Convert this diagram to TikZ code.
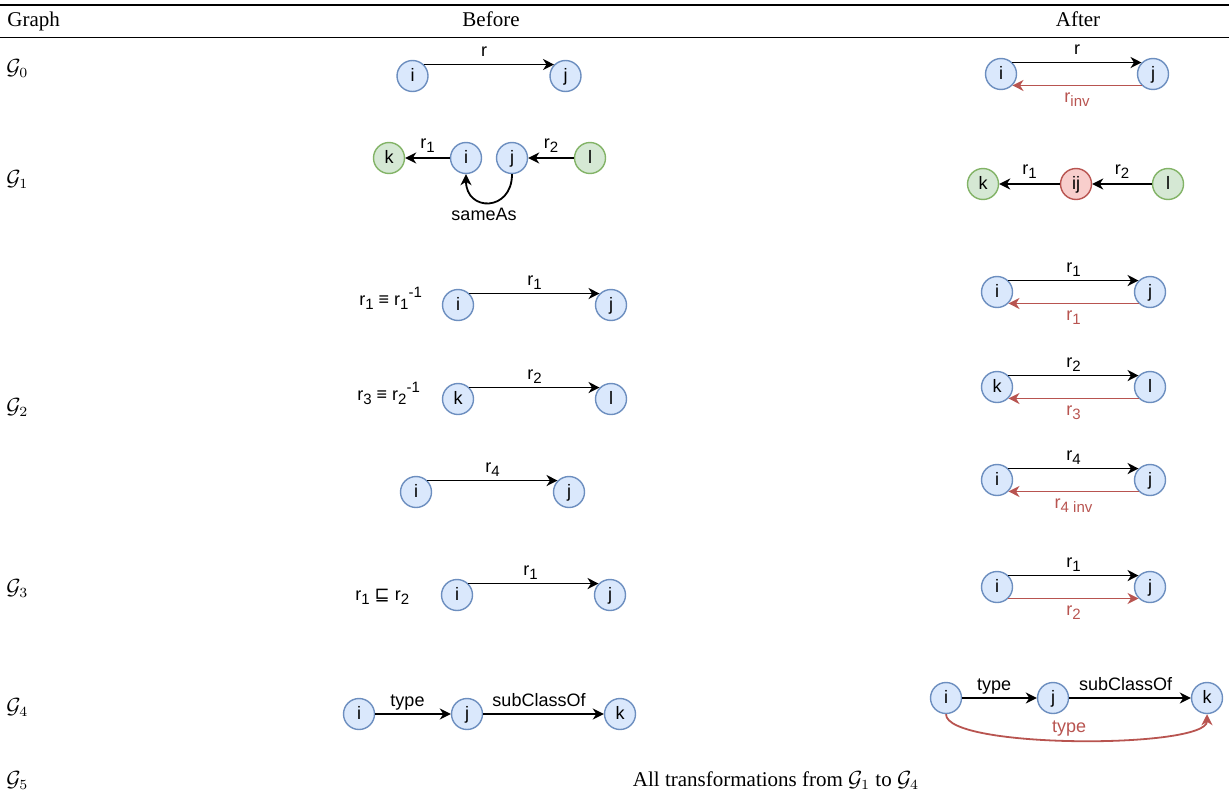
\documentclass[tikz,border=0pt]{standalone}
\usepackage{fontspec}
\setmainfont{Liberation Serif}
\setsansfont{Liberation Sans}
\newfontfamily\symfont{DejaVu Sans}
\usetikzlibrary{arrows.meta}

\definecolor{blueFill}{HTML}{DAE8FC}
\definecolor{blueLine}{HTML}{6C8EBF}
\definecolor{greenFill}{HTML}{D5E8D4}
\definecolor{greenLine}{HTML}{82B366}
\definecolor{redFill}{HTML}{F8CECC}
\definecolor{redLine}{HTML}{B85450}

\newcommand{\sansnine}{\sffamily\fontsize{9}{10}\selectfont}
\newcommand{\serifsize}{\rmfamily\fontsize{10.5}{12}\selectfont}
% lowered / raised indices in the diagram labels
\newcommand{\lo}[1]{\raisebox{-2pt}{\fontsize{7.5}{8}\selectfont #1}}
\newcommand{\hi}[1]{\raisebox{3.7pt}{\fontsize{7.5}{8}\selectfont #1}}

\begin{document}
\begin{tikzpicture}[x=0.5pt,y=-0.5pt,
  vtx/.style={circle, draw=blueLine, fill=blueFill, line width=0.7pt,
    minimum size=15.5pt, inner sep=0pt, font=\sansnine,
    text height=1.45ex, text depth=0.2ex},
  gvtx/.style={vtx, draw=greenLine, fill=greenFill},
  rvtx/.style={vtx, draw=redLine, fill=redFill},
  rel/.style={-{Stealth[length=5.5pt,width=5.5pt,inset=1.7pt]}, line width=0.9pt},
  inv/.style={rel, draw=redLine},
  lbl/.style={font=\sansnine, inner sep=0pt},
  toplbl/.style={lbl, midway, anchor=base, yshift=4.25pt},
  botlbl/.style={lbl, midway, anchor=base, yshift=-8.75pt, text=redLine},
  axiom/.style={font=\sansnine, inner sep=0pt, anchor=base west},
  cell/.style={font=\serifsize, inner sep=0pt, anchor=base},
  rowlbl/.style={font=\serifsize, inner sep=0pt, anchor=base west}
]
\useasboundingbox (0,0) rectangle (1229,792);

% table rules and header
\draw[line width=1pt] (0,5.2) -- (1229,5.2);
\draw[line width=0.75pt] (0,37.7) -- (1229,37.7);
\node[rowlbl] (hGraph) at (7,26.5) {Graph};
\node[cell] (hBefore) at (491,26.5) {Before};
\node[cell] (hAfter) at (1078,26.5) {After};

% row labels
\node[rowlbl] (g0) at (6,74.5) {$\mathcal{G}_0$};
\node[rowlbl] (g1) at (6,185) {$\mathcal{G}_1$};
\node[rowlbl] (g2) at (6,413) {$\mathcal{G}_2$};
\node[rowlbl] (g3) at (6,594) {$\mathcal{G}_3$};
\node[rowlbl] (g4) at (6,713) {$\mathcal{G}_4$};
\node[rowlbl] (g5) at (6,786) {$\mathcal{G}_5$};
\node[cell] (g5text) at (776,786) {All transformations from $\mathcal{G}_1$ to $\mathcal{G}_4$};

% ---------- G0 ----------
\node[vtx] (b0i) at (412.5,76) {i};
\node[vtx] (b0j) at (565.5,76) {j};
\draw[rel] (b0i.45) -- (b0j.135) node[toplbl, xshift=-2.5pt] {r};

\node[vtx] (a0i) at (1001,74) {i};
\node[vtx] (a0j) at (1153,74) {j};
\draw[rel] (a0i.45) -- (a0j.135) node[toplbl] {r};
\draw[inv] (a0j.-135) -- (a0i.-45) node[botlbl] {r\lo{inv}};

% ---------- G1 ----------
\node[gvtx] (b1k) at (389,158) {k};
\node[vtx] (b1i) at (466,158) {i};
\node[vtx] (b1j) at (512,158) {j};
\node[gvtx] (b1l) at (590,158) {l};
\draw[rel] (b1i) -- (b1k) node[toplbl, yshift=0.7pt] {r\lo{1}};
\draw[rel] (b1l) -- (b1j) node[toplbl, yshift=0.7pt] {r\lo{2}};
\draw[rel] (b1j.south) .. controls (512,212) and (466,212) .. (b1i.south);
\node[lbl, anchor=base] (sameAs) at (484,220) {sameAs};

\node[gvtx] (a1k) at (983,184) {k};
\node[rvtx] (a1ij) at (1076,184) {ij};
\node[gvtx] (a1l) at (1168,184) {l};
\draw[rel] (a1ij) -- (a1k) node[toplbl, yshift=0.7pt] {r\lo{1}};
\draw[rel] (a1l) -- (a1ij) node[toplbl, yshift=0.7pt] {r\lo{2}};

% ---------- G2 ----------
\node[axiom] (ax1) at (359,305) {r\lo{1} ≡ r\lo{1}\hi{-1}};
\node[vtx] (b2i) at (458,305) {i};
\node[vtx] (b2j) at (611,305) {j};
\draw[rel] (b2i.45) -- (b2j.135) node[toplbl] {r\lo{1}};

\node[axiom] (ax2) at (357,400) {r\lo{3} ≡ r\lo{2}\hi{-1}};
\node[vtx] (b2k) at (458,399) {k};
\node[vtx] (b2l) at (611,399) {l};
\draw[rel] (b2k.45) -- (b2l.135) node[toplbl] {r\lo{2}};

\node[vtx] (b2p) at (416,492) {i};
\node[vtx] (b2q) at (569,492) {j};
\draw[rel] (b2p.45) -- (b2q.135) node[toplbl] {r\lo{4}};

\node[vtx] (a2i) at (997,292) {i};
\node[vtx] (a2j) at (1150,292) {j};
\draw[rel] (a2i.45) -- (a2j.135) node[toplbl] {r\lo{1}};
\draw[inv] (a2j.-135) -- (a2i.-45) node[botlbl] {r\lo{1}};

\node[vtx] (a2k) at (997,387) {k};
\node[vtx] (a2l) at (1150,387) {l};
\draw[rel] (a2k.45) -- (a2l.135) node[toplbl] {r\lo{2}};
\draw[inv] (a2l.-135) -- (a2k.-45) node[botlbl] {r\lo{3}};

\node[vtx] (a2p) at (997,480) {i};
\node[vtx] (a2q) at (1150,480) {j};
\draw[rel] (a2p.45) -- (a2q.135) node[toplbl] {r\lo{4}};
\draw[inv] (a2q.-135) -- (a2p.-45) node[botlbl] {r\lo{4 inv}};

% ---------- G3 ----------
\node[axiom] (ax3) at (355,600) {r\lo{1} {\symfont ⊑} r\lo{2}};
\node[vtx] (b3i) at (457,595) {i};
\node[vtx] (b3j) at (610,595) {j};
\draw[rel] (b3i.45) -- (b3j.135) node[toplbl, xshift=-1.5pt] {r\lo{1}};

\node[vtx] (a3i) at (997,587) {i};
\node[vtx] (a3j) at (1150,587) {j};
\draw[rel] (a3i.45) -- (a3j.135) node[toplbl] {r\lo{1}};
\draw[inv] (a3i.-45) -- (a3j.-135) node[botlbl] {r\lo{2}};

% ---------- G4 ----------
\node[vtx] (b4i) at (359,714) {i};
\node[vtx] (b4j) at (467,714) {j};
\node[vtx] (b4k) at (620,714) {k};
\draw[rel] (b4i) -- (b4j) node[toplbl, yshift=-0.5pt, xshift=-2.75pt] {type};
\draw[rel] (b4j) -- (b4k) node[toplbl, yshift=-0.5pt, xshift=-2.25pt] {subClassOf};

\node[vtx] (a4i) at (946,698) {i};
\node[vtx] (a4j) at (1053,698) {j};
\node[vtx] (a4k) at (1207,698) {k};
\draw[rel] (a4i) -- (a4j) node[toplbl, yshift=-0.5pt, xshift=-2.75pt] {type};
\draw[rel] (a4j) -- (a4k) node[toplbl, yshift=-0.5pt, xshift=-2.25pt] {subClassOf};
\draw[inv] (a4i.south) .. controls (946,749) and (1207,749) .. (a4k.south);
\node[lbl, anchor=base, text=redLine] (a4type) at (1069,732) {type};
\end{tikzpicture}
\end{document}
